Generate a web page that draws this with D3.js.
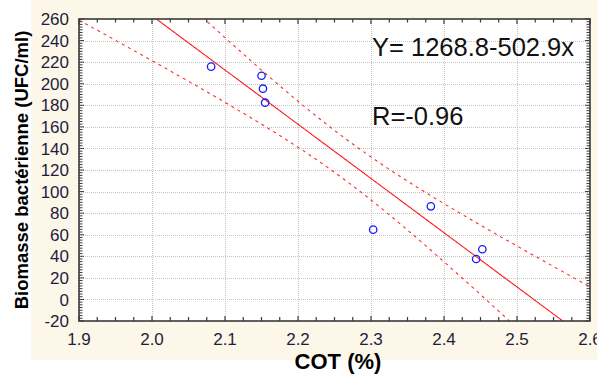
<!DOCTYPE html>
<html>
<head>
<meta charset="utf-8">
<script src="https://cdn.jsdelivr.net/npm/d3@7"></script>
<style>
  html, body { margin: 0; padding: 0; background: #ffffff; }
  svg { display: block; }
</style>
</head>
<body>
<script>
// Observations: total organic carbon (%) vs bacterial biomass (UFC/ml)
const cot = [2.081, 2.150, 2.152, 2.155, 2.303, 2.382, 2.4525, 2.444];
const biomasse = [215.8, 207.4, 195.4, 182.4, 64.7, 86.3, 46.5, 37.5];

// Fitted line Y = a + b·x and correlation
const fitCoefficients = [1268.8, -502.9];
const correlation = -0.96;
const tCritical = 2.447; // Student t, 95 %, n - 2 = 6 dof

const xTicks = [1.9, 2.0, 2.1, 2.2, 2.3, 2.4, 2.5, 2.6];
const yTicks = [-20, 0, 20, 40, 60, 80, 100, 120, 140, 160, 180, 200, 220, 240, 260];

const W = 597, H = 374;
const plotLeft = 79, plotRight = 590, plotTop = 19, plotBottom = 321;

const x = d3.scaleLinear().domain([1.9, 2.6]).range([plotLeft, plotRight]);
const y = d3.scaleLinear().domain([-20, 260]).range([plotBottom, plotTop]);

const svg = d3.select("body").append("svg").attr("width", W).attr("height", H);

// panel backgrounds
svg.append("rect").attr("x", 31).attr("y", 0).attr("width", W - 31).attr("height", 360).attr("fill", "#fdf7e9");
svg.append("rect").attr("x", plotLeft).attr("y", plotTop)
  .attr("width", plotRight - plotLeft).attr("height", plotBottom - plotTop).attr("fill", "#ffffff");

const defs = svg.append("defs");
defs.append("clipPath").attr("id", "plot-clip")
  .append("rect").attr("x", plotLeft).attr("y", plotTop)
  .attr("width", plotRight - plotLeft).attr("height", plotBottom - plotTop);

// dotted grid
const grid = svg.append("g").attr("stroke", "#c4c4c4").attr("stroke-width", 1).attr("stroke-dasharray", "1,1");
grid.selectAll("line.gx").data(xTicks.slice(1, -1)).join("line")
  .attr("x1", d => Math.round(x(d)) + 0.5).attr("x2", d => Math.round(x(d)) + 0.5)
  .attr("y1", plotTop).attr("y2", plotBottom);
grid.selectAll("line.gy").data(yTicks.slice(1, -1)).join("line")
  .attr("y1", d => Math.round(y(d)) + 0.5).attr("y2", d => Math.round(y(d)) + 0.5)
  .attr("x1", plotLeft).attr("x2", plotRight);

// regression line and 95 % confidence band
const [a, b] = fitCoefficients;
const n = cot.length;
const xMean = d3.mean(cot);
const sxx = d3.sum(cot, v => (v - xMean) ** 2);
const sse = d3.sum(cot, (v, i) => (biomasse[i] - (a + b * v)) ** 2);
const s = Math.sqrt(sse / (n - 2));
const halfWidth = v => tCritical * s * Math.sqrt(1 / n + (v - xMean) ** 2 / sxx);

const xs = d3.range(1.9, 2.6001, 0.002);
const fitLayer = svg.append("g").attr("clip-path", "url(#plot-clip)").attr("fill", "none");

fitLayer.append("path")
  .attr("d", d3.line().x(v => x(v)).y(v => y(a + b * v))(xs))
  .attr("stroke", "#ff1a1a").attr("stroke-width", 1.1);

[-1, 1].forEach(sign => {
  fitLayer.append("path")
    .attr("d", d3.line().x(v => x(v)).y(v => y(a + b * v + sign * halfWidth(v)))(xs))
    .attr("stroke", "#ff2a2a").attr("stroke-width", 1.1).attr("stroke-dasharray", "3,4");
});

// points
svg.append("g").selectAll("circle").data(cot).join("circle")
  .attr("cx", d => x(d)).attr("cy", (d, i) => y(biomasse[i]))
  .attr("r", 3.7).attr("fill", "none").attr("stroke", "#1a1aff").attr("stroke-width", 1.3);

// axes frame with inward ticks
const axisColor = "#3a3a3a";
const frame = svg.append("g").attr("stroke", axisColor).attr("fill", "none");
frame.append("rect").attr("x", plotLeft).attr("y", plotTop)
  .attr("width", plotRight - plotLeft).attr("height", plotBottom - plotTop)
  .attr("stroke-width", 1.6);

const xMinor = d3.range(1.9, 2.6001, 0.025);
const yMinor = d3.range(-20, 260.001, 2.5);
const isMajorX = v => Math.abs(v * 10 - Math.round(v * 10)) < 1e-6;
const isMajorY = v => Math.abs(v / 20 - Math.round(v / 20)) < 1e-6;

frame.selectAll("line.bt").data(xMinor).join("line")
  .attr("x1", d => x(d)).attr("x2", d => x(d))
  .attr("y1", plotBottom).attr("y2", d => plotBottom - (isMajorX(d) ? 5 : 4)).attr("stroke-width", 1.2);
frame.selectAll("line.tt").data(xMinor).join("line")
  .attr("x1", d => x(d)).attr("x2", d => x(d))
  .attr("y1", plotTop).attr("y2", d => plotTop + (isMajorX(d) ? 5 : 3.5)).attr("stroke-width", 1.2);
frame.selectAll("line.lt").data(yMinor).join("line")
  .attr("y1", d => y(d)).attr("y2", d => y(d))
  .attr("x1", plotLeft).attr("x2", d => plotLeft + (isMajorY(d) ? 5 : 3.5)).attr("stroke-width", 1);
frame.selectAll("line.rt").data(yMinor).join("line")
  .attr("y1", d => y(d)).attr("y2", d => y(d))
  .attr("x1", plotRight).attr("x2", d => plotRight - (isMajorY(d) ? 5 : 3.5)).attr("stroke-width", 1);

// tick labels
const tickFont = "'Liberation Sans', Arial, sans-serif";
svg.append("g").selectAll("text").data(yTicks).join("text")
  .attr("x", 69).attr("y", d => y(d)).attr("dy", "0.36em")
  .attr("text-anchor", "end").attr("font-family", tickFont).attr("font-size", 17)
  .attr("fill", "#1e1e3c").text(d => d);

svg.append("g").selectAll("text").data(xTicks).join("text")
  .attr("x", d => x(d)).attr("y", 345)
  .attr("text-anchor", "middle").attr("font-family", tickFont).attr("font-size", 17)
  .attr("fill", "#1e1e3c").text(d => d.toFixed(1));

// axis titles
svg.append("text")
  .attr("transform", "translate(28,170) rotate(-90)")
  .attr("text-anchor", "middle").attr("font-family", tickFont).attr("font-weight", "bold")
  .attr("font-size", 18.5).attr("fill", "#000").text("Biomasse bactérienne (UFC/ml)");

svg.append("text")
  .attr("x", 338).attr("y", 368.5)
  .attr("text-anchor", "middle").attr("font-family", tickFont).attr("font-weight", "bold")
  .attr("font-size", 22).attr("fill", "#000").text("COT (%)");

// fit annotations
const fmt = d3.format(".1f");
svg.append("text")
  .attr("x", 372).attr("y", 56).attr("font-family", tickFont).attr("font-size", 25.5).attr("fill", "#111")
  .text(`Y= ${fmt(a)}-${fmt(-b)}x`);
svg.append("text")
  .attr("x", 372).attr("y", 124.5).attr("font-family", tickFont).attr("font-size", 25.5).attr("fill", "#111")
  .text(`R=${correlation < 0 ? "-" : ""}${Math.abs(correlation).toFixed(2)}`);
</script>
</body>
</html>
